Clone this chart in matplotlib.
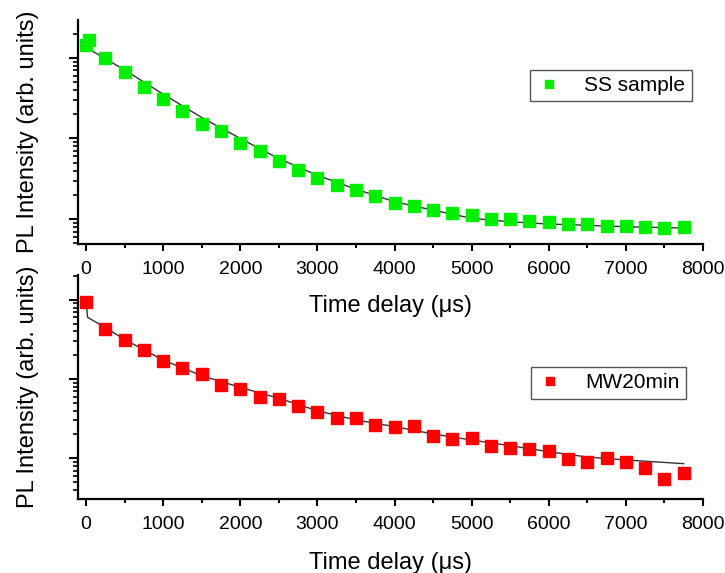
import numpy as np
import matplotlib
matplotlib.use("Agg")
import matplotlib.pyplot as plt
from matplotlib.ticker import MultipleLocator, LogLocator, NullFormatter

plt.rcParams['font.family'] = ['Liberation Sans', 'DejaVu Sans']

# SS sample (top panel), log10 of intensity
ss_t = [0, 40, 250, 500, 750, 1000, 1250, 1500, 1750, 2000, 2250, 2500, 2750, 3000,
        3250, 3500, 3750, 4000, 4250, 4500, 4750, 5000, 5250, 5500, 5750, 6000,
        6250, 6500, 6750, 7000, 7250, 7500, 7750]
ss_log = [2.16, 2.22, 2.00, 1.82, 1.64, 1.49, 1.345, 1.18, 1.09, 0.94, 0.845, 0.716,
          0.612, 0.513, 0.426, 0.356, 0.282, 0.195, 0.161, 0.112, 0.078, 0.046,
          0.004, -0.004, -0.025, -0.041, -0.062, -0.066, -0.087, -0.087, -0.096,
          -0.108, -0.099]
ss_fit_t = [0, 500, 1000, 1500, 2000, 2500, 3000, 3500, 4000, 4500, 5000, 5500,
            6000, 6500, 7000, 7750]
ss_fit_log = [2.13, 1.85, 1.55, 1.26, 1.00, 0.75, 0.543, 0.37, 0.215, 0.11, 0.009,
              -0.034, -0.062, -0.078, -0.096, -0.112]

# MW20min (bottom panel)
mw_t = [0, 250, 500, 750, 1000, 1250, 1500, 1750, 2000, 2250, 2500, 2750, 3000,
        3250, 3500, 3750, 4000, 4250, 4500, 4750, 5000, 5250, 5500, 5750, 6000,
        6250, 6500, 6750, 7000, 7250, 7500, 7750]
mw_log = [1.977, 1.633, 1.49, 1.367, 1.228, 1.136, 1.068, 0.922, 0.875, 0.778, 0.749,
          0.657, 0.585, 0.509, 0.505, 0.42, 0.391, 0.404, 0.282, 0.244, 0.256, 0.159,
          0.126, 0.114, 0.092, -0.009, -0.047, 0.008, -0.05, -0.119, -0.261, -0.186]
mw_fit_t = [0, 20, 250, 500, 1000, 1500, 2000, 2500, 3000, 3500, 4000, 4500, 5000,
            5500, 6000, 6500, 7000, 7750]
mw_fit_log = [1.99, 1.78, 1.65, 1.50, 1.24, 1.043, 0.896, 0.758, 0.60, 0.484, 0.40,
              0.307, 0.231, 0.159, 0.083, 0.016, -0.021, -0.068]

W, H = 725, 573
fig = plt.figure(figsize=(W / 100, H / 100), dpi=100)

def px_axes(left, top, right, bottom):
    return fig.add_axes([left / W, 1 - bottom / H, (right - left) / W, (bottom - top) / H])

panels = [
    (px_axes(78, 20, 703, 244), ss_t, ss_log, ss_fit_t, ss_fit_log, '#00ee00',
     'SS sample', (10 ** -0.31, 10 ** 2.47), (0.982, 0.777), -0.228),
    (px_axes(78, 275, 703, 499), mw_t, mw_log, mw_fit_t, mw_fit_log, '#ff0000',
     'MW20min', (10 ** -0.514, 10 ** 2.314), (0.973, 0.589), -0.235),
]

for ax, t, lg, ft, flg, col, name, ylim, anchor, xl_y in panels:
    ax.patch.set_visible(False)
    ax.plot(ft, 10 ** np.array(flg), color='#333333', lw=1.0, zorder=2)
    ax.plot(t, 10 ** np.array(lg), 's', color=col, ms=8, mec=col, label=name, zorder=3)
    ax.set_yscale('log')
    ax.set_xlim(-104, 8000)
    ax.set_ylim(*ylim)
    ax.spines['top'].set_visible(False)
    ax.spines['right'].set_visible(False)
    for s in ('left', 'bottom'):
        ax.spines[s].set_linewidth(1.6)
    ax.xaxis.set_major_locator(MultipleLocator(1000))
    ax.xaxis.set_minor_locator(MultipleLocator(500))
    ax.yaxis.set_major_locator(LogLocator(base=10))
    ax.yaxis.set_minor_locator(LogLocator(base=10, subs=np.arange(2, 10)))
    ax.yaxis.set_major_formatter(NullFormatter())
    ax.yaxis.set_minor_formatter(NullFormatter())
    ax.tick_params(axis='x', which='major', direction='out', length=5, width=1.5,
                   labelsize=14, pad=7)
    ax.tick_params(axis='x', which='minor', direction='out', length=3, width=1.5)
    ax.tick_params(axis='y', which='major', direction='out', length=6.5, width=1.5)
    ax.tick_params(axis='y', which='minor', direction='out', length=3.5, width=1.2)
    ax.set_xlabel('Time delay (\u03bcs)', fontsize=17)
    ax.xaxis.set_label_coords(0.5, xl_y)
    ax.set_ylabel('PL Intensity (arb. units)', fontsize=17)
    ax.yaxis.set_label_coords(-0.062, 0.5)
    leg = ax.legend(loc='upper right', bbox_to_anchor=anchor, fontsize=15,
                    fancybox=False, edgecolor='#555555', framealpha=1,
                    markerscale=0.75, handlelength=1.2, handletextpad=1.1,
                    borderpad=0.3, borderaxespad=0)
    leg.get_frame().set_linewidth(1.0)

fig.savefig('out.png', dpi=100)
